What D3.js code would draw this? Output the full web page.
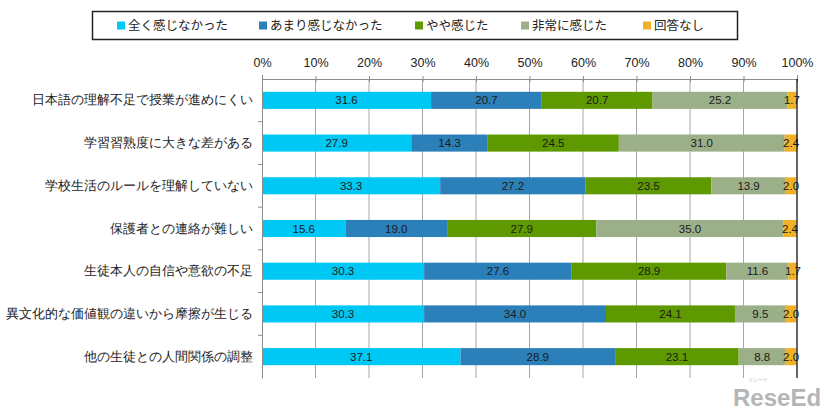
<!DOCTYPE html>
<html>
<head>
<meta charset="utf-8">
<script src="https://cdn.jsdelivr.net/npm/d3@7"></script>
<style>
body { margin: 0; background: #fff; }
svg { display: block; font-family: "Noto Sans CJK JP", "Noto Sans", sans-serif; }
</style>
</head>
<body>
<script>
var categories = [
	"日本語の理解不足で授業が進めにくい",
	"学習習熟度に大きな差がある",
	"学校生活のルールを理解していない",
	"保護者との連絡が難しい",
	"生徒本人の自信や意欲の不足",
	"異文化的な価値観の違いから摩擦が生じる",
	"他の生徒との人間関係の調整"
];
var seriesNames = ["全く感じなかった", "あまり感じなかった", "やや感じた", "非常に感じた", "回答なし"];
var s1 = [31.6, 27.9, 33.3, 15.6, 30.3, 30.3, 37.1];
var s2 = [20.7, 14.3, 27.2, 19.0, 27.6, 34.0, 28.9];
var s3 = [20.7, 24.5, 23.5, 27.9, 28.9, 24.1, 23.1];
var s4 = [25.2, 31.0, 13.9, 35.0, 11.6, 9.5, 8.8];
var s5 = [1.7, 2.4, 2.0, 2.4, 1.7, 2.0, 2.0];
var tickValues = [0, 10, 20, 30, 40, 50, 60, 70, 80, 90, 100];
var colors = ["#00c8f5", "#2c80b9", "#5f9900", "#9baf89", "#f0b129"];

var W = 826, H = 415;
var margin = {left: 262, right: 29, top: 79, bottom: 37};
var svg = d3.select("body").append("svg").attr("width", W).attr("height", H);

var x = d3.scaleLinear().domain([0, 100]).range([margin.left, W - margin.right]);
var y = d3.scaleBand().domain(categories).range([margin.top, H - margin.bottom]).paddingInner(0.6).paddingOuter(0.3);
var yb = d3.scaleBand().domain(categories).range([margin.top, H - margin.bottom]);

var rows = categories.map(function(c, i) {
	return {cat: c, s1: s1[i], s2: s2[i], s3: s3[i], s4: s4[i], s5: s5[i]};
});
var keys = ["s1", "s2", "s3", "s4", "s5"];
var stacked = d3.stack().keys(keys)(rows);

// gridlines
svg.append("g").selectAll("line").data(tickValues.slice(1, -1)).join("line")
	.attr("x1", function(d) { return x(d); }).attr("x2", function(d) { return x(d); })
	.attr("y1", margin.top).attr("y2", H - margin.bottom)
	.attr("stroke", "#a6a6a6").attr("stroke-width", 1);

// top axis
var xAxisG = svg.append("g").attr("transform", "translate(0," + margin.top + ")")
	.call(d3.axisTop(x).tickValues(tickValues).tickFormat(function(d) { return d + "%"; }).tickSize(4).tickPadding(8));
xAxisG.select(".domain").attr("stroke", "#8c8c8c");
xAxisG.selectAll(".tick line").attr("stroke", "#8c8c8c").attr("y2", 3).attr("y1", -3);
xAxisG.selectAll("text").attr("font-size", 12.5).attr("fill", "#222").attr("font-family", "Liberation Sans, Arial, sans-serif");

// bars
var groups = svg.append("g").selectAll("g").data(stacked).join("g")
	.attr("fill", function(d, i) { return colors[i]; });
groups.selectAll("rect").data(function(d) { return d; }).join("rect")
	.attr("x", function(d) { return x(d[0]); })
	.attr("width", function(d) { return x(d[1]) - x(d[0]); })
	.attr("y", function(d) { return y(d.data.cat); })
	.attr("height", y.bandwidth());

// value labels
svg.append("g").selectAll("g").data(stacked).join("g")
	.selectAll("text").data(function(d) { return d; }).join("text")
	.attr("x", function(d) { return x((d[0] + d[1]) / 2); })
	.attr("y", function(d) { return y(d.data.cat) + y.bandwidth() / 2; })
	.attr("dy", "0.36em")
	.attr("text-anchor", "middle")
	.attr("font-size", 11.5)
	.attr("font-family", "Liberation Sans, Arial, sans-serif")
	.attr("fill", "#1a1a1a")
	.text(function(d) { return (d[1] - d[0]).toFixed(1); });

// left axis
var yAxisG = svg.append("g").attr("transform", "translate(" + margin.left + ",0)")
	.call(d3.axisLeft(y).tickSize(0).tickPadding(9));
yAxisG.select(".domain").attr("stroke", "#8c8c8c");
yAxisG.selectAll("text").attr("font-size", 12.5).attr("fill", "#222");
svg.append("g").selectAll("line").data(categories.slice(1)).join("line")
	.attr("x1", margin.left - 4).attr("x2", margin.left)
	.attr("y1", function(d) { return yb(d); }).attr("y2", function(d) { return yb(d); })
	.attr("stroke", "#8c8c8c");

// right 100% line
svg.append("line").attr("x1", x(100)).attr("x2", x(100))
	.attr("y1", margin.top).attr("y2", H - margin.bottom)
	.attr("stroke", "#111").attr("stroke-width", 1.3);

// legend
svg.append("rect").attr("x", 92.5).attr("y", 11.5).attr("width", 645).attr("height", 28)
	.attr("fill", "#fff").attr("stroke", "#222").attr("stroke-width", 1.5);
var legendX = [117, 259, 415, 521, 643];
var lg = svg.append("g").selectAll("g").data(seriesNames).join("g")
	.attr("transform", function(d, i) { return "translate(" + legendX[i] + ",25.5)"; });
lg.append("rect").attr("x", 0).attr("y", -4).attr("width", 8).attr("height", 8)
	.attr("fill", function(d, i) { return colors[i]; });
lg.append("text").attr("x", 11).attr("dy", "0.36em").attr("font-size", 12.5).attr("fill", "#222")
	.text(function(d) { return d; });

// logo
svg.append("text").attr("x", 733).attr("y", 406)
	.attr("font-family", "Liberation Sans, Arial, sans-serif").attr("font-weight", "bold")
	.attr("font-size", 24).attr("fill", "#b5b5b5").text("ReseEd");
svg.append("text").attr("x", 758).attr("y", 381).attr("text-anchor", "middle")
	.attr("font-size", 5).attr("fill", "#b5b5b5").text("リシード");
</script>
</body>
</html>
